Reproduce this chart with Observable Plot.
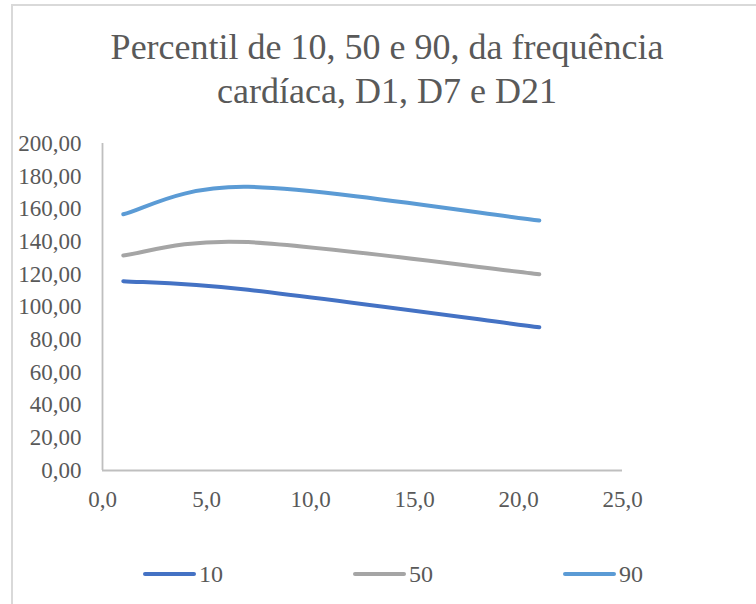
<!DOCTYPE html>
<html>
<head>
<meta charset="utf-8">
<script src="https://cdn.jsdelivr.net/npm/d3@7"></script>
<script src="https://cdn.jsdelivr.net/npm/@observablehq/plot@0.6"></script>
<style>
  html, body { margin: 0; padding: 0; background: #fff; }
  #wrap { position: relative; width: 756px; height: 604px; overflow: hidden; font-family: "Liberation Serif", "Times New Roman", serif; color: #595959; }
  #frame { position: absolute; left: 11px; top: 4px; width: 800px; height: 700px; border-left: 2px solid #d9d9d9; border-top: 2px solid #d9d9d9; }
  #title { position: absolute; left: 0; width: 774px; top: 25px; text-align: center; font-size: 36px; line-height: 44px; }
  #chart { position: absolute; left: 0; top: 125px; }
  #legend { position: absolute; top: 560px; left: 0; width: 756px; height: 28px; font-size: 24px; }
  .item { position: absolute; top: 0; display: flex; align-items: center; height: 28px; }
  .swatch { width: 53px; height: 4px; border-radius: 2px; margin-right: 3px; }
</style>
</head>
<body>
<div id="wrap">
  <div id="frame"></div>
  <div id="title">Percentil de 10, 50 e 90, da frequência<br>cardíaca, D1, D7 e D21</div>
  <div id="chart"></div>
  <div id="legend"></div>
</div>
<script>
// ---- data ----
const days = [1, 7, 21];
const p10 = [115.8, 110.5, 87.6];
const p50 = [131.5, 139.7, 120.0];
const p90 = [156.7, 173.5, 152.9];
const seriesNames = ["10", "50", "90"];
const seriesColors = ["#4472C4", "#A5A5A5", "#5B9BD5"];
const yTicks = [0, 20, 40, 60, 80, 100, 120, 140, 160, 180, 200];
const xTicks = [0, 5, 10, 15, 20, 25];

const seriesValues = [p10, p50, p90];
const rows = [];
seriesNames.forEach((name, i) => {
  days.forEach((d, j) => rows.push({ series: name, day: d, value: seriesValues[i][j] }));
});

const fmtY = d => d.toFixed(2).replace(".", ",");
const fmtX = d => d.toFixed(1).replace(".", ",");

// Spreadsheet-style smoothed line: cubic Bezier, control points at 1/6 of neighbour span
function smoothCurve(context) {
  let pts = [];
  return {
    areaStart() {}, areaEnd() {},
    lineStart() { pts = []; },
    point(x, y) { pts.push([+x, +y]); },
    lineEnd() {
      const n = pts.length;
      if (!n) return;
      context.moveTo(pts[0][0], pts[0][1]);
      if (n === 2) { context.lineTo(pts[1][0], pts[1][1]); return; }
      for (let i = 0; i < n - 1; i++) {
        const p0 = pts[Math.max(i - 1, 0)], p1 = pts[i], p2 = pts[i + 1], p3 = pts[Math.min(i + 2, n - 1)];
        context.bezierCurveTo(
          p1[0] + (p2[0] - p0[0]) / 6, p1[1] + (p2[1] - p0[1]) / 6,
          p2[0] - (p3[0] - p1[0]) / 6, p2[1] - (p3[1] - p1[1]) / 6,
          p2[0], p2[1]);
      }
    }
  };
}

const chart = Plot.plot({
  width: 756,
  height: 405,
  marginLeft: 102,
  marginRight: 134,
  marginTop: 18,
  marginBottom: 60,
  style: { fontFamily: "Liberation Serif, Times New Roman, serif", fontSize: "23px", color: "#595959", background: "transparent", overflow: "visible" },
  x: { domain: [0, 25], ticks: xTicks, tickFormat: fmtX, tickSize: 0, tickPadding: 20, label: null },
  y: { domain: [0, 200], ticks: yTicks, tickFormat: fmtY, tickSize: 0, tickPadding: 21, label: null },
  color: { domain: seriesNames, range: seriesColors },
  marks: [
    Plot.ruleX([0], { stroke: "#bfbfbf", strokeWidth: 1.8 }),
    Plot.ruleY([0], { stroke: "#bfbfbf", strokeWidth: 1.8 }),
    Plot.line(rows, { x: "day", y: "value", z: "series", stroke: "series", strokeWidth: 4, curve: smoothCurve, strokeLinecap: "round" })
  ]
});
document.getElementById("chart").appendChild(chart);

// legend
const legendPos = [143, 353, 563];
const legend = document.getElementById("legend");
seriesNames.forEach((name, i) => {
  const item = document.createElement("div");
  item.className = "item";
  item.style.left = legendPos[i] + "px";
  const sw = document.createElement("div");
  sw.className = "swatch";
  sw.style.background = seriesColors[i];
  const t = document.createElement("span");
  t.textContent = name;
  item.appendChild(sw);
  item.appendChild(t);
  legend.appendChild(item);
});
</script>
</body>
</html>
